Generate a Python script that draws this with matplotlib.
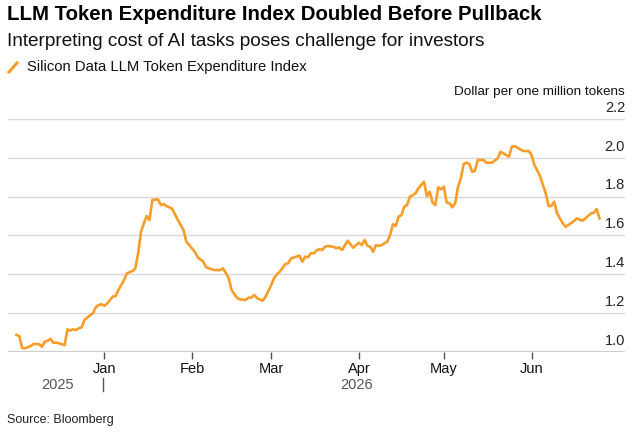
import numpy as np
import pandas as pd
import matplotlib
matplotlib.use("Agg")
import matplotlib.pyplot as plt
import matplotlib.transforms as mtransforms
from matplotlib.lines import Line2D

plt.rcParams['font.family'] = ['Liberation Sans', 'DejaVu Sans']

# 데이터
dec_days = [1, 2, 3, 4, 6, 7, 9, 10, 11, 12, 13, 14, 15, 16, 18, 19, 20, 21, 22, 23, 24, 25, 26, 27, 28, 29, 30, 31]
dec_vals = [1.088, 1.082, 1.021, 1.019, 1.031, 1.041, 1.041, 1.027, 1.053, 1.058, 1.068, 1.048, 1.048, 1.045,
            1.035, 1.117, 1.110, 1.117, 1.113, 1.122, 1.127, 1.165, 1.177, 1.189, 1.199, 1.230, 1.242, 1.246]
jan_days = [1, 2, 4, 5, 6, 8, 9, 11, 12, 13, 14, 15, 16, 17, 18, 20, 21, 22, 23, 25, 27, 29, 30, 31]
jan_vals = [1.238, 1.249, 1.285, 1.288, 1.319, 1.371, 1.405, 1.417, 1.431, 1.511, 1.619, 1.663, 1.700, 1.680,
            1.783, 1.786, 1.757, 1.762, 1.752, 1.738, 1.680, 1.628, 1.568, 1.551]
feb_days = [2, 3, 5, 6, 8, 9, 11, 12, 14, 15, 17, 18, 20, 21, 22, 23, 24, 26, 27]
feb_vals = [1.516, 1.488, 1.465, 1.436, 1.426, 1.422, 1.422, 1.431, 1.380, 1.319, 1.277, 1.271, 1.268, 1.280,
            1.280, 1.294, 1.277, 1.264, 1.285]
mar_days = [1, 2, 3, 4, 6, 7, 8, 10, 11, 12, 13, 14, 15, 16, 17, 18, 19, 20, 21, 23, 24, 25, 26, 28, 30, 31]
mar_vals = [1.345, 1.380, 1.400, 1.413, 1.453, 1.457, 1.482, 1.491, 1.496, 1.465, 1.491, 1.488, 1.508, 1.508,
            1.522, 1.530, 1.525, 1.542, 1.546, 1.542, 1.534, 1.539, 1.525, 1.573, 1.537, 1.551]
apr_days = [1, 2, 3, 4, 5, 6, 7, 8, 9, 11, 12, 13, 14, 15, 16, 17, 18, 19, 21, 22, 24, 25, 26, 27, 28, 29, 30]
apr_vals = [1.563, 1.551, 1.577, 1.547, 1.542, 1.516, 1.551, 1.546, 1.551, 1.568, 1.602, 1.658, 1.649, 1.697,
            1.705, 1.748, 1.757, 1.800, 1.817, 1.843, 1.877, 1.803, 1.825, 1.769, 1.757, 1.848, 1.838]
may_days = [1, 2, 3, 4, 5, 6, 7, 8, 9, 10, 11, 12, 13, 15, 16, 18, 20, 21, 22, 24, 25, 26, 28, 29, 31]
may_vals = [1.851, 1.769, 1.766, 1.745, 1.766, 1.851, 1.894, 1.968, 1.975, 1.968, 1.928, 1.934, 1.989, 1.989,
            1.975, 1.975, 1.997, 2.031, 2.023, 2.006, 2.057, 2.061, 2.044, 2.035, 2.035]
jun_days = [1, 2, 4, 5, 6, 7, 8, 9, 10, 12, 13, 14, 16, 17, 19, 20, 22, 23, 24, 25]
jun_vals = [2.014, 1.963, 1.906, 1.860, 1.817, 1.752, 1.752, 1.774, 1.714, 1.663, 1.645, 1.654, 1.675, 1.688,
            1.676, 1.688, 1.714, 1.717, 1.736, 1.688]

months = [("2025-12", dec_days, dec_vals), ("2026-01", jan_days, jan_vals), ("2026-02", feb_days, feb_vals),
          ("2026-03", mar_days, mar_vals), ("2026-04", apr_days, apr_vals), ("2026-05", may_days, may_vals),
          ("2026-06", jun_days, jun_vals)]

dates = []
values = []
for ym, days, vals in months:
    dates += [pd.Timestamp(f"{ym}-{d:02d}") for d in days]
    values += vals

y_ticks = [1.0, 1.2, 1.4, 1.6, 1.8, 2.0, 2.2]
x_ticks = ["2026-01-01", "2026-02-01", "2026-03-01", "2026-04-01", "2026-05-01", "2026-06-01"]
x_labels = ["Jan", "Feb", "Mar", "Apr", "May", "Jun"]

orange = '#F99D2A'

fig = plt.figure(figsize=(6.35, 4.32), dpi=100)
ax = fig.add_axes([8/635, 1-352/432, 617/635, (352-119)/432])

ax.plot(dates, values, color=orange, lw=1.9, solid_joinstyle='round', clip_on=False, zorder=3)

ax.set_ylim(1.0, 2.2)
ax.set_xlim(pd.Timestamp("2025-11-28"), pd.Timestamp("2026-07-04"))

for s in ax.spines.values():
    s.set_visible(False)
ax.set_yticks(y_ticks)
ax.tick_params(axis='y', length=0, labelleft=False)
for yv in y_ticks:
    if yv == 1.0:
        ax.axhline(yv, color='#cfcfcf', lw=1.6, zorder=1)
    else:
        ax.axhline(yv, color='#d9d9d9', lw=1.0, zorder=1)

# y축 라벨 (오른쪽, 격자선 위)
trans = mtransforms.blended_transform_factory(ax.transAxes, ax.transData) \
    + mtransforms.ScaledTranslation(0, 3/72, fig.dpi_scale_trans)
for yv in y_ticks:
    ax.text(1.0, yv, f"{yv:.1f}", transform=trans, ha='right', va='bottom',
            fontsize=10.5, color='#222222')

ax.set_xticks([pd.Timestamp(d) for d in x_ticks])
ax.set_xticklabels(x_labels, fontsize=10.5, color='#111111')
ax.tick_params(axis='x', length=5, width=1, color='#555555', pad=2)

# 연도 라벨
fig.text(58/635, 1-385/432, "2025", ha='center', va='center', fontsize=10.5, color='#555555')
fig.text(357/635, 1-385/432, "2026", ha='center', va='center', fontsize=10.5, color='#555555')
fig.add_artist(Line2D([103/635, 103/635], [1-378/432, 1-391/432], color='#555555', lw=1))

# 제목, 부제목, 범례
fig.text(7/635, 1-14/432, "LLM Token Expenditure Index Doubled Before Pullback",
         ha='left', va='center', fontsize=14.7, fontweight='bold', color='#000000')
fig.text(7/635, 1-41/432, "Interpreting cost of AI tasks poses challenge for investors",
         ha='left', va='center', fontsize=13.7, color='#111111')
fig.add_artist(Line2D([9/635, 17/635], [1-72/432, 1-63/432], color=orange, lw=2.2))
fig.text(27/635, 1-67/432, "Silicon Data LLM Token Expenditure Index",
         ha='left', va='center', fontsize=10.6, color='#111111')
fig.text(625/635, 1-92/432, "Dollar per one million tokens",
         ha='right', va='center', fontsize=9.7, color='#111111')
fig.text(7/635, 1-420/432, "Source: Bloomberg", ha='left', va='center', fontsize=9, color='#222222')

plt.savefig('out.png', dpi=100)
